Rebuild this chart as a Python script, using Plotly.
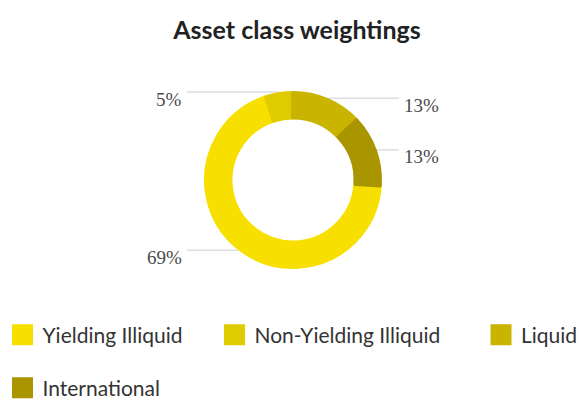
import math
import plotly.graph_objects as go

categories = ["Yielding Illiquid", "Non-Yielding Illiquid", "Liquid", "International"]
weights = [69, 5, 13, 13]
colors = ["#F7E000", "#E0CB00", "#C9B400", "#A89500"]

OFF = 8                      # page body margin
W, H = 586 - OFF, 402 - OFF
CX, CY, R = 293, 180, 89     # visible ring centre / outer radius (page px)
LW = 4
RD = R - LW / 2
HOLE = (60.5 + LW / 2) / RD
ROT = sum(weights[2:]) / sum(weights) * 360

# legend item placement (page px): swatch centre x, row centre y
LEG_POS = [(22.5, 335), (234.5, 335), (501, 335), (22.5, 388)]


def px(x):
    return (x - OFF) / W


def py(y):
    return 1 - (y - OFF) / H


fig = go.Figure()
fig.add_trace(go.Pie(
    labels=categories,
    values=weights,
    sort=False,
    direction="clockwise",
    rotation=ROT,
    hole=HOLE,
    textinfo="none",
    marker=dict(colors=colors, line=dict(color=colors, width=LW)),
    domain=dict(x=[px(CX - RD), px(CX + RD)], y=[py(CY + RD), py(CY - RD)]),
    showlegend=False,
    hoverinfo="label+percent",
))

legend_layout = {}
for i, (c, col) in enumerate(zip(categories, colors)):
    name = "legend" if i == 0 else f"legend{i + 1}"
    fig.add_trace(go.Scatter(
        x=[None], y=[None], mode="markers", name=c, legend=name,
        marker=dict(symbol="square", size=16, color=col, line=dict(color=col, width=5)),
        hoverinfo="skip",
    ))
    sx, sy = LEG_POS[i]
    legend_layout[name] = dict(
        x=px(sx - 20), y=py(sy), xanchor="left", yanchor="middle", orientation="h",
        font=dict(family="Lato", size=21, color="#333333"),
        bgcolor="rgba(0,0,0,0)", itemclick=False, itemdoubleclick=False)

total = sum(weights)
cum = 0
shapes, annotations = [], []
for v in weights:
    mid = math.radians(ROT + (cum + v / 2) / total * 360)
    cum += v
    x0 = CX + R * math.sin(mid)
    y0 = CY - R * math.cos(mid)
    left = math.sin(mid) < 0
    lx = CX - (R + 20) if left else CX + (R + 20)
    shapes.append(dict(type="line", xref="paper", yref="paper",
                       x0=px(x0), y0=py(y0), x1=px(lx + (3 if left else -3)), y1=py(y0),
                       line=dict(color="#DDDDDD", width=1.5), layer="below"))
    annotations.append(dict(x=px(lx), y=py(y0 + 7), xref="paper", yref="paper",
                            text=f"{round(v / total * 100)}%", showarrow=False,
                            xanchor="right" if left else "left", yanchor="middle",
                            font=dict(family="Liberation Serif", size=19, color="#4A4A4A")))

fig.update_layout(
    width=W, height=H,
    margin=dict(l=0, r=0, t=0, b=0, autoexpand=False),
    paper_bgcolor="white",
    plot_bgcolor="white",
    xaxis=dict(visible=False),
    yaxis=dict(visible=False),
    title=dict(text="<b>Asset class weightings</b>", x=0.5, xanchor="center",
               y=py(30), yanchor="middle", automargin=False,
               font=dict(family="Lato", size=25, color="#222222")),
    shapes=shapes,
    annotations=annotations,
    **legend_layout,
)

fig.write_html("out.html")
